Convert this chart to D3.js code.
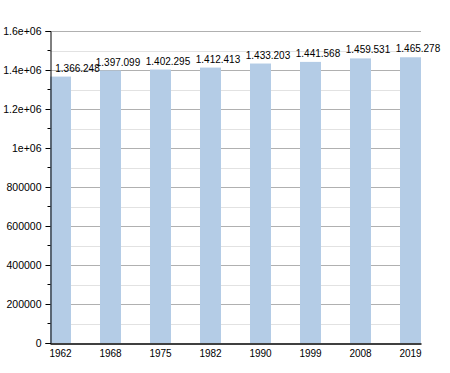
<!DOCTYPE html>
<html>
<head>
<meta charset="UTF-8">
<script src="https://d3js.org/d3.v7.min.js"></script>
<style>
  body { margin: 0; background: #fff; font-family: 'Liberation Sans', Arial, sans-serif; }
  svg text { font-family: 'Liberation Sans', Arial, sans-serif; font-size: 10px; fill: #000; }
</style>
</head>
<body>
<div id="chart"></div>
<script>
const years = ["1962", "1968", "1975", "1982", "1990", "1999", "2008", "2019"];
const population = [1366248, 1397099, 1402295, 1412413, 1433203, 1441568, 1459531, 1465278];
const labels = ["1.366.248", "1.397.099", "1.402.295", "1.412.413", "1.433.203", "1.441.568", "1.459.531", "1.465.278"];
const yTicks = [0, 200000, 400000, 600000, 800000, 1000000, 1200000, 1400000, 1600000];
const yTickLabels = ["0", "200000", "400000", "600000", "800000", "1e+06", "1.2e+06", "1.4e+06", "1.6e+06"];
const yMinor = [100000, 300000, 500000, 700000, 900000, 1100000, 1300000, 1500000];

const W = 450, H = 373;
const plotLeft = 50, plotRight = 421, plotTop = 31, plotBottom = 343;

const svg = d3.select("#chart").append("svg")
  .attr("width", W)
  .attr("height", H);

const x = d3.scaleBand()
  .domain(years)
  .range([plotLeft, plotRight])
  .paddingInner(0.58)
  .paddingOuter(0);

const y = d3.scaleLinear()
  .domain([0, 1600000])
  .range([plotBottom, plotTop]);

// grid
svg.append("g").selectAll("line")
  .data(yMinor)
  .join("line")
  .attr("x1", plotLeft).attr("x2", plotRight)
  .attr("y1", d => Math.round(y(d)) + 0.5).attr("y2", d => Math.round(y(d)) + 0.5)
  .attr("stroke", "#e2e2e2");

svg.append("g").selectAll("line")
  .data(yTicks.slice(1))
  .join("line")
  .attr("x1", plotLeft).attr("x2", plotRight)
  .attr("y1", d => Math.round(y(d)) + 0.5).attr("y2", d => Math.round(y(d)) + 0.5)
  .attr("stroke", "#b0b0b0");

// bars
svg.append("g").selectAll("rect")
  .data(population)
  .join("rect")
  .attr("x", (d, i) => x(years[i]))
  .attr("y", d => y(d))
  .attr("width", x.bandwidth())
  .attr("height", d => plotBottom - y(d))
  .attr("fill", "#b4cce6");

// value labels (pushed right so they clear the y axis)
svg.append("g").selectAll("text")
  .data(population)
  .join("text")
  .attr("x", (d, i) => Math.max(x(years[i]) + x.bandwidth() / 2 + 7.5, plotLeft + 27.5))
  .attr("y", d => y(d) - 5)
  .attr("text-anchor", "middle")
  .text((d, i) => labels[i]);

// y axis
const yAxis = d3.axisLeft(y)
  .tickValues(yTicks)
  .tickFormat((d, i) => yTickLabels[i])
  .tickSize(5)
  .tickPadding(4);

const gy = svg.append("g")
  .attr("transform", `translate(${plotLeft + 0.5},0)`)
  .call(yAxis);
gy.select(".domain").attr("stroke", "#000");
gy.selectAll("text").style("font-size", "10.5px");

gy.selectAll(".minor")
  .data(yMinor)
  .join("line")
  .attr("class", "minor")
  .attr("x1", -3).attr("x2", 0)
  .attr("y1", d => y(d)).attr("y2", d => y(d))
  .attr("stroke", "#000");

// x axis
const xAxis = d3.axisBottom(x).tickSize(0).tickPadding(6);
const gx = svg.append("g")
  .attr("transform", `translate(0,${plotBottom + 0.5})`)
  .call(xAxis);
gx.select(".domain").attr("stroke", "#000").attr("stroke-width", 1.5);
gx.selectAll("text").style("font-size", "10px");
</script>
</body>
</html>
